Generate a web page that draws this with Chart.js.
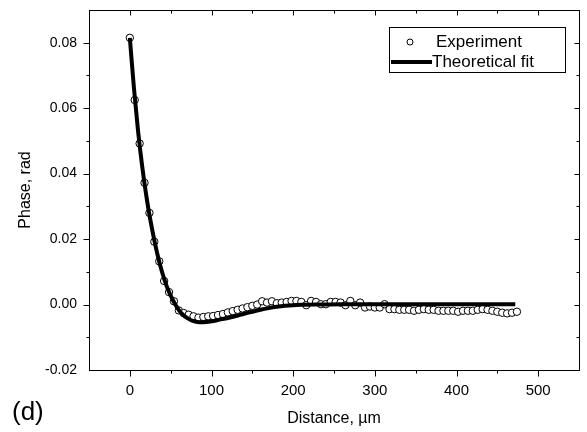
<!DOCTYPE html>
<html>
<head>
<meta charset="utf-8">
<script src="https://cdn.jsdelivr.net/npm/chart.js@4/dist/chart.umd.min.js"></script>
<style>
  body { margin: 0; background: #fff; }
</style>
</head>
<body>
<canvas id="phaseChart" width="587" height="432"></canvas>
<script>
// tick values
var X_TICKS = [0, 100, 200, 300, 400, 500];
var Y_TICKS = [-0.02, 0, 0.02, 0.04, 0.06, 0.08];

// measured points (distance in um, phase in rad)
var EXP_X = [0, 6, 12, 18, 24, 30, 36, 42, 48, 54, 60, 66, 72, 78, 84, 90, 96, 102, 108, 114,
  120, 126, 132, 138, 144, 150, 156, 162, 168, 174, 180, 186, 192, 198, 204, 210, 216, 222, 228, 234,
  240, 246, 252, 258, 264, 270, 276, 282, 288, 294, 300, 306, 312, 318, 324, 330, 336, 342, 348, 354,
  360, 366, 372, 378, 384, 390, 396, 402, 408, 414, 420, 426, 432, 438, 444, 450, 456, 462, 468, 474];
var EXP_Y = [0.0815, 0.0625, 0.0492, 0.0372, 0.0280, 0.0192, 0.0132, 0.0072, 0.0038, 0.0010,
  -0.0018, -0.0026, -0.0031, -0.0036, -0.0040, -0.0038, -0.0036, -0.0035, -0.0032, -0.0029,
  -0.0024, -0.0020, -0.0016, -0.0012, -0.0008, -0.0004, 0.0000, 0.0010, 0.0006, 0.0010,
  0.0004, 0.0006, 0.0008, 0.0011, 0.0011, 0.0008, -0.0002, 0.0011, 0.0008, 0.0001,
  0.0001, 0.0008, 0.0008, 0.0006, -0.0002, 0.0011, -0.0002, 0.0006, -0.0009, -0.0006,
  -0.0009, -0.0009, 0.0001, -0.0014, -0.0014, -0.0016, -0.0016, -0.0016, -0.0019, -0.0016,
  -0.0014, -0.0016, -0.0016, -0.0019, -0.0019, -0.0019, -0.0019, -0.0022, -0.0019, -0.0019,
  -0.0019, -0.0016, -0.0014, -0.0016, -0.0019, -0.0022, -0.0025, -0.0027, -0.0025, -0.0022];

// fitted curve
var FIT_X = [0, 5, 10, 15, 20, 25, 30, 35, 40, 45, 50, 55, 60, 65, 70, 75, 80, 85, 90, 100,
  110, 120, 130, 140, 150, 160, 170, 180, 190, 200, 210, 230, 260, 300, 350, 400, 472];
var FIT_Y = [0.0815, 0.0662, 0.0532, 0.0425, 0.0335, 0.0260, 0.0196, 0.0141, 0.0095, 0.0057,
  0.0027, 0.0003, -0.0017, -0.0031, -0.0041, -0.0048, -0.0052, -0.0054, -0.0054, -0.0051,
  -0.0046, -0.0041, -0.0035, -0.0028, -0.0022, -0.0016, -0.0011, -0.0007, -0.0004, -0.0002,
  -0.0001, 0.0000, 0.0001, 0.0001, 0.0001, 0.0001, 0.0001];

var FONT = "'Liberation Sans', Arial, sans-serif";

function toPoints(xs, ys) {
  return xs.map(function (x, i) { return { x: x, y: ys[i] }; });
}

// frame, minor/major ticks on all four sides, legend box and panel letter
var framePlugin = {
  id: "frame",
  afterDatasetsDraw: function (chart) {
    var ctx = chart.ctx;
    var a = chart.chartArea;
    var xs = chart.scales.x, ys = chart.scales.y;
    ctx.save();
    ctx.strokeStyle = "#000";
    ctx.lineWidth = 1;
    var L = a.left + 0.5, R = a.right + 0.5, T = a.top + 0.5, B = a.bottom + 0.5;
    ctx.strokeRect(L, T, R - L, B - T);

    ctx.beginPath();
    for (var v = 0; v <= 500; v += 50) {
      var px = Math.round(xs.getPixelForValue(v)) + 0.5;
      var major = v % 100 === 0;
      ctx.moveTo(px, B); ctx.lineTo(px, B + (major ? 6 : 3));
      ctx.moveTo(px, T); ctx.lineTo(px, T + (major ? 5 : 3));
    }
    for (var k = -1; k <= 8; k++) {
      var py = Math.round(ys.getPixelForValue(k / 100)) + 0.5;
      var maj = k % 2 === 0;
      ctx.moveTo(L, py); ctx.lineTo(L - (maj ? 6 : 3), py);
      ctx.moveTo(R, py); ctx.lineTo(R - (maj ? 5 : 3), py);
    }
    ctx.stroke();

    // legend
    var ds = chart.data.datasets;
    ctx.strokeRect(389.5, 27.5, 176, 45);
    ctx.beginPath();
    ctx.arc(410, 42, 3, 0, Math.PI * 2);
    ctx.fillStyle = "#fff";
    ctx.fill();
    ctx.stroke();
    ctx.beginPath();
    ctx.lineWidth = 4;
    ctx.moveTo(391, 62); ctx.lineTo(432, 62);
    ctx.stroke();
    ctx.fillStyle = "#000";
    ctx.font = "17px " + FONT;
    ctx.textBaseline = "middle";
    ctx.textAlign = "left";
    ctx.fillText(ds[0].label, 436, 42);
    ctx.fillText(ds[1].label, 432, 62);

    ctx.font = "26px " + FONT;
    ctx.fillText("(d)", 12, 413);
    ctx.restore();
  }
};

var ctx = document.getElementById("phaseChart").getContext("2d");

var phaseChart = new Chart(ctx, {
  type: "scatter",
  data: {
    datasets: [
      {
        label: "Experiment",
        data: toPoints(EXP_X, EXP_Y),
        showLine: false,
        pointRadius: 3.7,
        pointBorderWidth: 1,
        pointBackgroundColor: "#fff",
        pointBorderColor: "#000",
        order: 1,
      },
      {
        label: "Theoretical fit",
        data: toPoints(FIT_X, FIT_Y),
        showLine: true,
        borderColor: "#000",
        borderWidth: 4,
        pointRadius: 0,
        cubicInterpolationMode: "monotone",
        order: 0,
      },
    ],
  },
  options: {
    responsive: false,
    devicePixelRatio: 1,
    animation: false,
    layout: { padding: { top: 10, right: 8, left: 0, bottom: 0 } },
    plugins: {
      legend: { display: false },
      tooltip: { enabled: false },
    },
    scales: {
      x: {
        type: "linear",
        min: -50,
        max: 550,
        afterBuildTicks: function (axis) {
          axis.ticks = X_TICKS.map(function (v) { return { value: v }; });
        },
        afterFit: function (axis) {
          axis.height = 62;
          axis.paddingLeft = 0;
          axis.paddingRight = 0;
        },
        grid: { display: false, drawTicks: false },
        border: { display: false },
        ticks: {
          color: "#000",
          padding: 12,
          maxRotation: 0,
          font: { family: FONT, size: 15 },
        },
        title: {
          display: true,
          text: "Distance, \u00b5m",
          color: "#000",
          font: { family: FONT, size: 16 },
          padding: { top: 0, bottom: 4 },
        },
      },
      y: {
        type: "linear",
        min: -0.02,
        max: 0.09,
        afterBuildTicks: function (axis) {
          axis.ticks = Y_TICKS.map(function (v) { return { value: v }; });
        },
        afterFit: function (axis) {
          axis.width = 89;
          axis.paddingTop = 0;
          axis.paddingBottom = 0;
        },
        grid: { display: false, drawTicks: false },
        border: { display: false },
        ticks: {
          color: "#000",
          padding: 12,
          font: { family: FONT, size: 14 },
          callback: function (v) { return v.toFixed(2); },
        },
        title: {
          display: true,
          text: "Phase, rad",
          color: "#000",
          font: { family: FONT, size: 16 },
          padding: { top: 16, bottom: 0 },
        },
      },
    },
  },
  plugins: [framePlugin],
});
</script>
</body>
</html>
